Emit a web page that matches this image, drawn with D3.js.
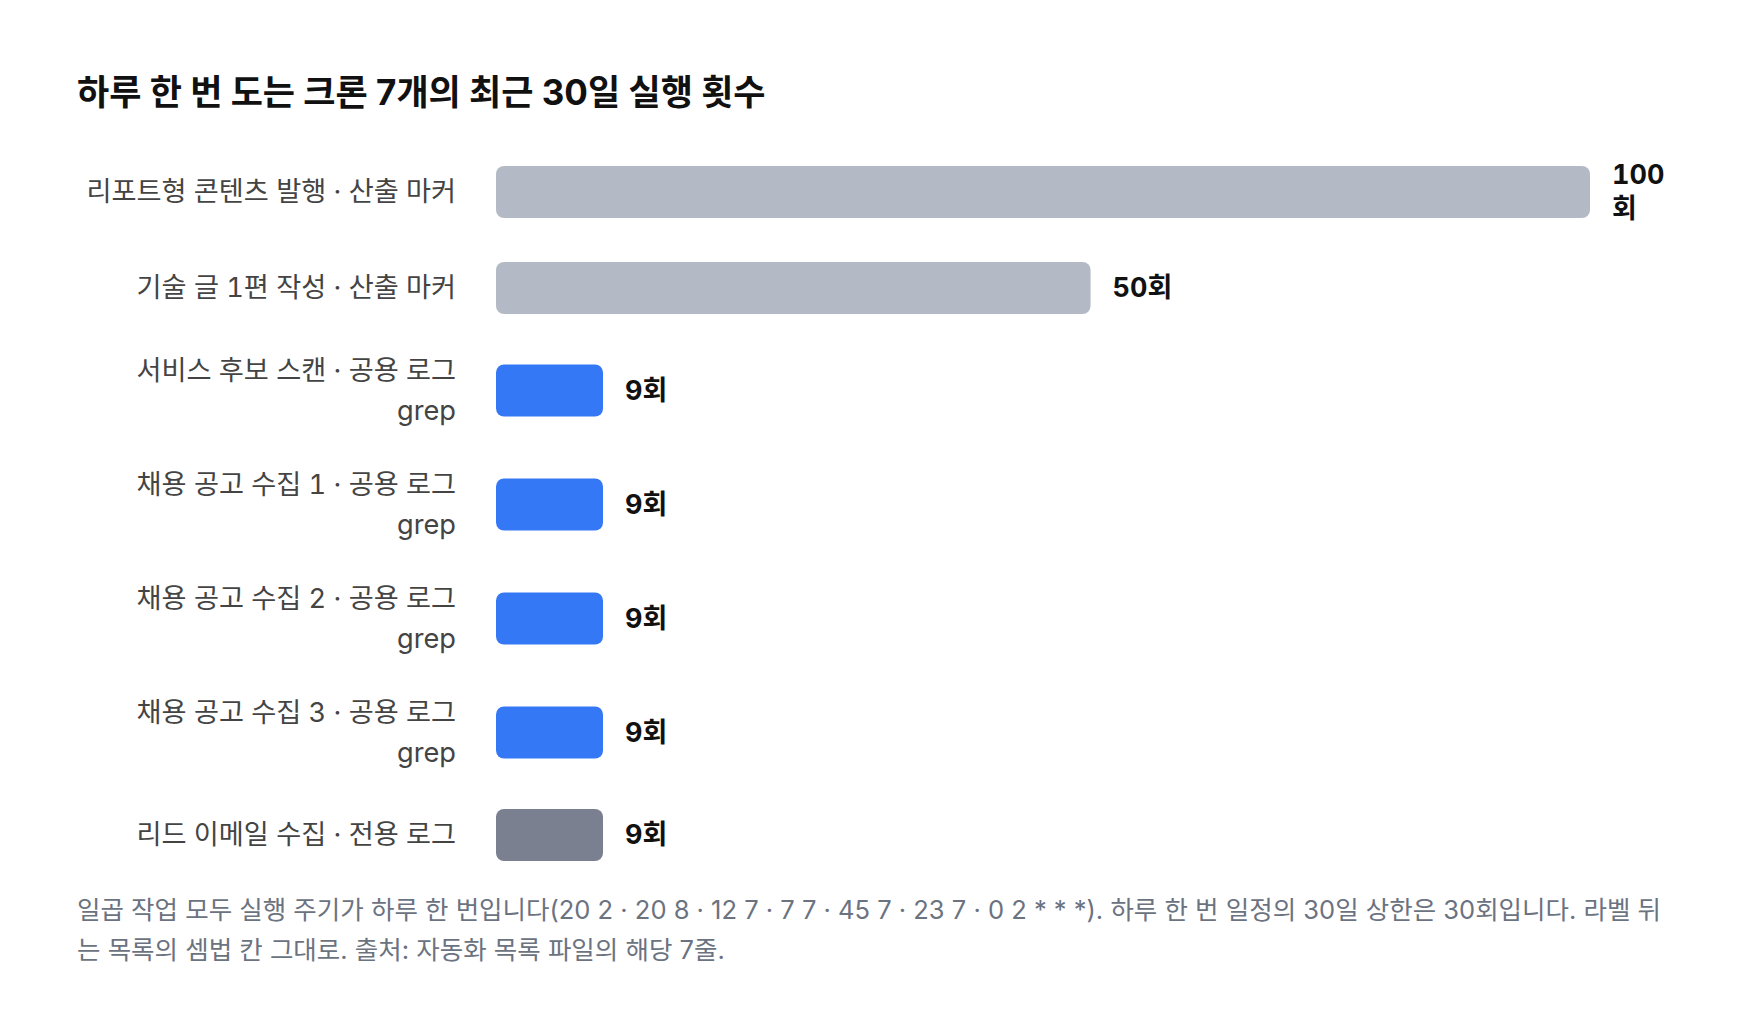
<!DOCTYPE html>
<html lang="ko">
<head>
<meta charset="utf-8">
<script src="https://cdn.jsdelivr.net/npm/d3@7"></script>
<style>
  html, body { margin: 0; padding: 0; background: #fff; }
  svg { display: block; font-family: Inter, "Noto Sans CJK KR", sans-serif; }
  .tnum { font-variant-numeric: tabular-nums; }
</style>
</head>
<body>
<svg id="chart" width="1760" height="1036"></svg>
<script>
// chart data
var title = "하루 한 번 도는 크론 7개의 최근 30일 실행 횟수";
var jobs = [
    "리포트형 콘텐츠 발행 · 산출 마커",
    "기술 글 1편 작성 · 산출 마커",
    "서비스 후보 스캔 · 공용 로그 grep",
    "채용 공고 수집 1 · 공용 로그 grep",
    "채용 공고 수집 2 · 공용 로그 grep",
    "채용 공고 수집 3 · 공용 로그 grep",
    "리드 이메일 수집 · 전용 로그"
];
var runs = [100, 50, 9, 9, 9, 9, 9];
var kinds = ["marker", "marker", "shared", "shared", "shared", "shared", "own"];
var unit = "회";
var footLines = [
    "일곱 작업 모두 실행 주기가 하루 한 번입니다(20 2 · 20 8 · 12 7 · 7 7 · 45 7 · 23 7 · 0 2 * * *). 하루 한 번 일정의 30일 상한은 30회입니다. 라벨 뒤",
    "는 목록의 셈법 칸 그대로. 출처: 자동화 목록 파일의 해당 7줄."
];

var kindColor = d3.scaleOrdinal()
    .domain(["marker", "shared", "own"])
    .range(["#b3bac5", "#3478f6", "#7b8090"]);

var labelRight = 456;
var barLeft = 496;
var rightEdge = 1680;
var labelMax = 375;
var barH = 52;
var minRowH = 57;
var gap = 34;
var labelLH = 40;
var valueLH = 34;
var labelSize = 27.2;
var valueSize = 27;

var svg = d3.select("#chart");

svg.append("text")
    .attr("x", 77)
    .attr("y", 105)
    .attr("font-size", 35)
    .attr("font-weight", 700)
    .attr("fill", "#111")
    .text(title);

// bar length scale, long bars stop before the value label space
var x = d3.scaleLinear()
    .domain([0, 92])
    .range([0, 1094])
    .clamp(true);

// measure text to work out wrapping
var probe = svg.append("text").attr("class", "tnum").attr("visibility", "hidden");
function measure(str, size, weight) {
    probe.attr("font-size", size).attr("font-weight", weight).text(str);
    return probe.node().getComputedTextLength();
}

function wrapLabel(str) {
    var words = str.split(" ");
    var lines = [];
    var line = [];
    words.forEach(function(w) {
        var test = line.concat([w]).join(" ");
        if (line.length && measure(test, labelSize, 400) > labelMax) {
            lines.push(line.join(" "));
            line = [w];
        } else {
            line.push(w);
        }
    });
    lines.push(line.join(" "));
    return lines;
}

var rows = jobs.map(function(name, i) {
    var v = runs[i];
    var w = x(v);
    var vx = barLeft + w + 22;
    var full = v + unit;
    var vlines = (vx + measure(full, valueSize, 700) > rightEdge) ? [String(v), unit] : [full];
    var llines = wrapLabel(name);
    var h = Math.max(minRowH, llines.length * labelLH, vlines.length * 33.5);
    return {name: name, value: v, kind: kinds[i], w: w, vx: vx, vlines: vlines, llines: llines, h: h};
});
probe.remove();

// row centres
var rowTop = 158.5;
var centers = [];
rows.forEach(function(r) {
    centers.push(rowTop + r.h / 2);
    rowTop += r.h + gap;
});
var y = d3.scaleOrdinal().domain(jobs).range(centers);

var g = svg.selectAll("g.row")
    .data(rows)
    .enter()
    .append("g")
    .attr("class", "row");

g.append("rect")
    .attr("x", barLeft)
    .attr("y", function(d) { return y(d.name) - barH / 2; })
    .attr("width", function(d) { return d.w; })
    .attr("height", barH)
    .attr("rx", 8)
    .attr("fill", function(d) { return kindColor(d.kind); });

// category labels
g.append("text")
    .attr("class", "tnum")
    .attr("text-anchor", "end")
    .attr("font-size", labelSize)
    .attr("fill", "#444")
    .each(function(d) {
        var t = d3.select(this);
        var n = d.llines.length;
        d.llines.forEach(function(l, k) {
            t.append("tspan")
                .attr("x", labelRight)
                .attr("y", y(d.name) + (k - (n - 1) / 2) * labelLH + 9)
                .text(l);
        });
    });

// value labels
g.append("text")
    .attr("class", "tnum")
    .attr("font-size", valueSize)
    .attr("font-weight", 700)
    .attr("fill", "#111")
    .each(function(d) {
        var t = d3.select(this);
        var n = d.vlines.length;
        d.vlines.forEach(function(l, k) {
            t.append("tspan")
                .attr("x", d.vx)
                .attr("y", y(d.name) + (k - (n - 1) / 2) * valueLH + 9)
                .text(l);
        });
    });

// footnote
svg.append("text")
    .attr("font-size", 25.5)
    .attr("fill", "#6b7280")
    .selectAll("tspan")
    .data(footLines)
    .enter()
    .append("tspan")
    .attr("x", 77)
    .attr("y", function(d, i) { return 919 + i * 40; })
    .text(function(d) { return d; });
</script>
</body>
</html>
